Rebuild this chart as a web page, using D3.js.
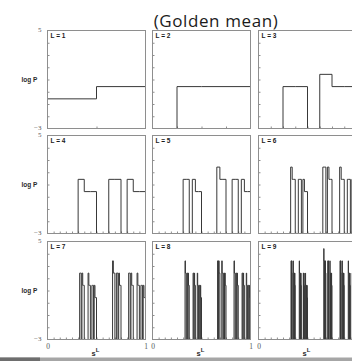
<!DOCTYPE html>
<html>
<head>
<meta charset="utf-8">
<script src="https://cdn.jsdelivr.net/npm/d3@7"></script>
<style>
  html, body { margin: 0; padding: 0; background: #fff; }
  svg { display: block; }
  svg text { opacity: 0.999; }
</style>
</head>
<body>
<svg id="chart" width="352" height="361"></svg>
<script>
// Block distributions of the golden mean process, one panel per word length L.
const chartTitle = "(Golden mean)";
const blockLengths = [1, 2, 3, 4, 5, 6, 7, 8, 9];
const yAxisLabel = "log P";
const yDomain = [-3, 5];
const yTickLabels = [-3, 5];
const xTickLabels = [0, 1];

// log P levels for the words (index = digit used in the profiles below)
const logLevels = [-0.58, 0.42, 1.42, 2.42, 3.42, 4.42];

// One character per word of length L, in order of s^L = 0.s1s2...sL.
// "." marks a forbidden word (probability zero), a digit picks a level in logLevels.
const wordProfiles = [
  "01",
  ".111",
  "..11.211",
  ".....211..22.211",
  "..........22.211 .....322..22.211",
  "................ .....322..22.211 ..........33.322 .....322..22.211",
  "................ ................ ..........33.322 .....322..22.211" +
  "................ .....433..33.322 ..........33.322 .....322..22.211",
  "................ ................ ................ ................" +
  "................ .....433..33.322 ..........33.322 .....322..22.211" +
  "................ ................ ..........44.433 .....433..33.322" +
  "................ .....433..33.322 ..........33.322 .....322..22.211",
  "................ ................ ................ ................" +
  "................ ................ ................ ................" +
  "................ ................ ..........44.433 .....433..33.322" +
  "................ .....433..33.322 ..........33.322 .....322..22.211" +
  "................ ................ ................ ................" +
  "................ .....544..44.433 ..........44.433 .....433..33.322" +
  "................ ................ ..........44.433 .....433..33.322" +
  "................ .....433..33.322 ..........33.322 .....322..22.211"
];

const W = 352;
const svg = d3.select("#chart");
const panelW = 98, panelH = 98;
const colLeft = [47.5, 152.5, 258.5];
const rowTop = [30.5, 135.5, 241.5];
const frameColor = "#8e8e8e";
const lineColor = "#383838";

svg.append("text")
  .attr("x", 216).attr("y", 26.5)
  .attr("text-anchor", "middle")
  .style("font-family", "'Open Sans', sans-serif")
  .style("font-size", "17px")
  .style("letter-spacing", "0.6px")
  .attr("fill", "#1b1b1b")
  .text(chartTitle);

blockLengths.forEach((L, idx) => {
  const row = Math.floor(idx / 3), col = idx % 3;
  const g = svg.append("g")
    .attr("transform", `translate(${colLeft[col]},${rowTop[row]})`);

  const x = d3.scaleLinear().domain([0, 1]).range([0, panelW]);
  const y = d3.scaleLinear().domain(yDomain).range([panelH, 0]);

  const cells = wordProfiles[idx].replace(/\s+/g, "");
  const n = cells.length;
  if (n !== Math.pow(2, L)) throw new Error("profile L=" + L + " has " + n + " words");

  const pts = Array.from(cells, (ch, i) => [i / n, ch === "." ? yDomain[0] : logLevels[+ch]]);
  pts.push([1, pts[n - 1][1]]);

  // inner ticks
  const leftTicks = d3.axisLeft(y).tickValues(d3.range(yDomain[0] + 1, yDomain[1])).tickSize(-2).tickFormat("");
  g.append("g").call(leftTicks)
    .call(s => s.select(".domain").remove())
    .call(s => s.selectAll("line").attr("stroke", frameColor));

  const div = Math.pow(2, Math.min(L, 4));
  const bottomTicks = d3.axisBottom(x).tickValues(d3.range(1, div).map(k => k / div)).tickSize(-2).tickFormat("");
  g.append("g").attr("transform", `translate(0,${panelH})`).call(bottomTicks)
    .call(s => s.select(".domain").remove())
    .call(s => s.selectAll("line").attr("stroke", frameColor));

  // step profile of log P against s^L
  const step = d3.line()
    .x(d => x(d[0]))
    .y(d => y(d[1]))
    .curve(d3.curveStepAfter);
  g.append("path")
    .datum(pts)
    .attr("d", step)
    .attr("fill", "none")
    .attr("stroke", lineColor)
    .attr("stroke-width", 1);

  g.append("rect")
    .attr("x", 0).attr("y", 0)
    .attr("width", panelW).attr("height", panelH)
    .attr("fill", "none")
    .attr("stroke", frameColor)
    .attr("stroke-width", 1);

  g.append("text")
    .attr("x", 3).attr("y", 7.5)
    .style("font-family", "'Liberation Sans', Arial, sans-serif")
    .style("font-weight", "bold")
    .style("font-size", "6.5px")
    .attr("fill", "#1a1a1a")
    .text(`L = ${L}`);

  if (col === 0) {
    const yLabels = d3.axisLeft(y).tickValues(yTickLabels).tickSize(0).tickPadding(6);
    g.append("g").call(yLabels)
      .call(s => s.select(".domain").remove())
      .call(s => s.selectAll("text")
        .attr("dy", "0.2em")
        .style("font-family", "'Liberation Serif', 'Times New Roman', serif")
        .style("font-size", "7px")
        .attr("fill", "#555"));

    g.append("text")
      .attr("x", -18).attr("y", panelH / 2 + 2.5)
      .attr("text-anchor", "middle")
      .style("font-family", "'Liberation Sans', Arial, sans-serif")
      .style("font-weight", "bold")
      .style("font-size", "6.5px")
      .attr("fill", "#2a2a2a")
      .text(yAxisLabel);
  }

  if (row === 2) {
    // end labels only where they fall inside the window
    const visible = xTickLabels.filter(v => colLeft[col] + x(v) < W - 3);
    const xLabels = d3.axisBottom(x).tickValues(visible).tickSize(0).tickPadding(4.5).tickFormat(d3.format("d"));
    g.append("g").attr("transform", `translate(0,${panelH})`).call(xLabels)
      .call(s => s.select(".domain").remove())
      .call(s => s.selectAll("text")
        .style("font-family", "'Liberation Serif', 'Times New Roman', serif")
        .style("font-size", "7.5px")
        .attr("fill", "#555"));

    const sl = g.append("text")
      .attr("x", panelW / 2 - 1).attr("y", panelH + 16)
      .attr("text-anchor", "middle")
      .style("font-family", "'Liberation Sans', Arial, sans-serif")
      .style("font-weight", "bold")
      .attr("fill", "#2a2a2a");
    sl.append("tspan").style("font-size", "7.5px").text("s");
    sl.append("tspan").style("font-size", "6px").attr("dy", -4).text("L");
  }
});

// grey strip along the lower edge
svg.append("rect").attr("x", 0).attr("y", 357.5).attr("width", W).attr("height", 3.5).attr("fill", "#a6a6a6");
svg.append("rect").attr("x", 0).attr("y", 357.5).attr("width", 40).attr("height", 3.5).attr("fill", "#6e6e6e");
</script>
</body>
</html>
